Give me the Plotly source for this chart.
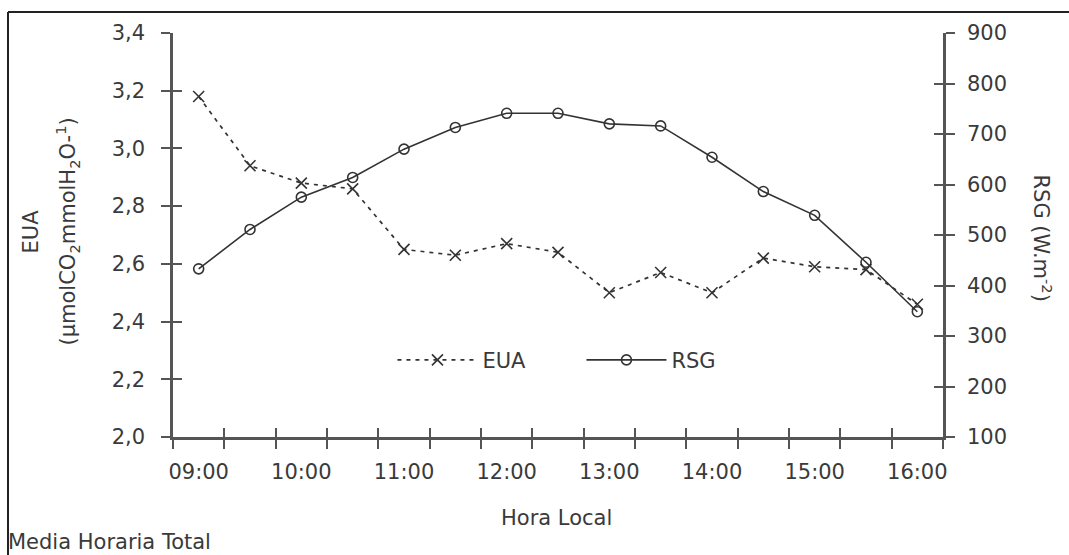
import plotly.graph_objects as go

hours = ["09:00", "09:30", "10:00", "10:30", "11:00", "11:30", "12:00", "12:30",
         "13:00", "13:30", "14:00", "14:30", "15:00", "15:30", "16:00"]
eua = [3.18, 2.94, 2.88, 2.86, 2.65, 2.63, 2.67, 2.64, 2.50, 2.57, 2.50, 2.62, 2.59, 2.58, 2.46]
rsg = [433, 511, 575, 614, 670, 713, 741, 741, 720, 716, 654, 586, 539, 446, 348]
eua_ticks = [2.0, 2.2, 2.4, 2.6, 2.8, 3.0, 3.2, 3.4]
rsg_ticks = [100, 200, 300, 400, 500, 600, 700, 800, 900]

xs = list(range(len(hours)))
bounds = [i - 0.5 for i in range(len(hours) + 1)]
label_vals = xs[::2]
label_text = hours[::2]

FONT = "DejaVu Sans"
FS = 21
TXT = "#3a3a3a"
AX = "#555555"

fig = go.Figure()
fig.add_trace(go.Scatter(
    x=xs, y=eua, name="EUA", mode="lines+markers",
    line=dict(color="#333333", width=1.7, dash="4px,5px"),
    marker=dict(symbol="x-thin-open", size=11, line=dict(color="#333333", width=1.6)),
    xaxis="x", yaxis="y"))
fig.add_trace(go.Scatter(
    x=xs, y=rsg, name="RSG", mode="lines+markers",
    line=dict(color="#333333", width=1.6),
    marker=dict(symbol="circle-open", size=10, line=dict(color="#333333", width=1.6)),
    xaxis="x", yaxis="y2"))

common_x = dict(range=[-0.5, 14.5], showgrid=False, zeroline=False, fixedrange=True)
common_tick = dict(ticklen=9, tickwidth=2, tickcolor=AX)
tfont = dict(family=FONT, size=FS, color=TXT)

fig.update_layout(
    width=1069, height=555,
    margin=dict(l=173, r=126, t=33, b=118),
    paper_bgcolor="white", plot_bgcolor="white",
    separators=",.",
    font=tfont,
    showlegend=True,
    legend=dict(orientation="h", x=0.285, y=0.19, xanchor="left", yanchor="middle",
                bgcolor="rgba(0,0,0,0)", font=tfont,
                itemwidth=80, entrywidth=94, entrywidthmode="pixels"),
    xaxis=dict(**common_x, tickmode="array", tickvals=bounds, showticklabels=False,
               ticks="outside", **common_tick, showline=True, linecolor=AX, linewidth=2.5),
    xaxis2=dict(**common_x, overlaying="x", anchor="y", side="bottom", tickmode="array",
                tickvals=bounds, showticklabels=False, ticks="inside", **common_tick,
                showline=False),
    xaxis3=dict(**common_x, overlaying="x", anchor="y", side="bottom", tickmode="array",
                tickvals=label_vals, ticktext=label_text, ticks="", showline=False,
                ticklabelstandoff=20, tickfont=tfont),
    yaxis=dict(range=[2.0, 3.4], tickmode="array", tickvals=eua_ticks, tickformat=".1f",
               ticks="outside", **common_tick, showline=True, linecolor=AX, linewidth=2.5,
               showgrid=False, zeroline=False, ticklabelstandoff=12, tickfont=tfont),
    yaxis3=dict(range=[2.0, 3.4], overlaying="y", anchor="x", side="left", tickmode="array",
                tickvals=eua_ticks, showticklabels=False, ticks="inside", **common_tick,
                showline=False, showgrid=False, zeroline=False),
    yaxis2=dict(range=[100, 900], overlaying="y", anchor="x", side="right", tickmode="array",
                tickvals=rsg_ticks, ticks="outside", **common_tick, showline=True,
                linecolor=AX, linewidth=2.5, showgrid=False, zeroline=False,
                ticklabelstandoff=8, tickfont=tfont),
    yaxis4=dict(range=[100, 900], overlaying="y", anchor="x", side="right", tickmode="array",
                tickvals=rsg_ticks, showticklabels=False, ticks="inside", **common_tick,
                showline=False, showgrid=False, zeroline=False),
)

# empty traces so the overlay tick axes render
fig.add_trace(go.Scatter(x=[], y=[], xaxis="x2", yaxis="y3", showlegend=False, hoverinfo="skip"))
fig.add_trace(go.Scatter(x=[], y=[], xaxis="x3", yaxis="y4", showlegend=False, hoverinfo="skip"))

def px_x(p):
    return (p - 173) / 770

def px_y(p):
    return (437 - p) / 405

fig.add_annotation(text="EUA", xref="paper", yref="paper", x=px_x(31), y=px_y(231),
                   textangle=-90, showarrow=False, xanchor="center", yanchor="middle", font=tfont)
fig.add_annotation(text="(µmolCO<sub>2</sub>mmolH<sub>2</sub>O-<sup>1</sup>)", xref="paper",
                   yref="paper", x=px_x(67), y=px_y(231), textangle=-90, showarrow=False,
                   xanchor="center", yanchor="middle", font=tfont)
fig.add_annotation(text="RSG (W.m<sup>-2</sup>)", xref="paper", yref="paper", x=px_x(1042),
                   y=px_y(237), textangle=90, showarrow=False, xanchor="center",
                   yanchor="middle", font=tfont)
fig.add_annotation(text="Hora Local", xref="paper", yref="paper", x=px_x(556), y=px_y(518),
                   showarrow=False, xanchor="center", yanchor="middle", font=tfont)
fig.add_annotation(text="Media Horaria Total", xref="paper", yref="paper", x=px_x(6),
                   y=px_y(542), showarrow=False, xanchor="left", yanchor="middle", font=tfont)

# outer frame (left and top edges)
fx = px_x(8)
fig.add_shape(type="line", xref="paper", yref="paper", x0=fx, x1=fx,
              y0=px_y(11), y1=px_y(560), line=dict(color="#222222", width=2))
fig.add_shape(type="line", xref="paper", yref="paper", x0=fx, x1=px_x(1075),
              y0=px_y(11), y1=px_y(11), line=dict(color="#222222", width=2))

fig.write_html("out.html")
